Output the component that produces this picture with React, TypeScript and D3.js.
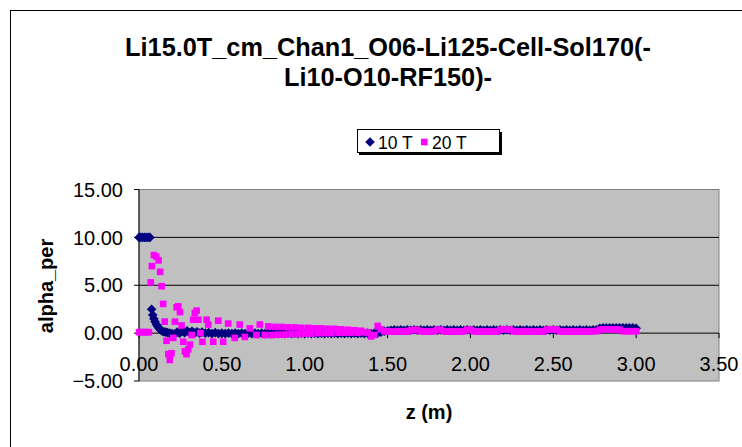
import React from "react";
import * as d3 from "d3";

const TITLE_LINES = ["Li15.0T_cm_Chan1_O06-Li125-Cell-Sol170(-", "Li10-O10-RF150)-"];
const X_TITLE = "z (m)";
const Y_TITLE = "alpha_per";
const SERIES_NAMES = ["10 T", "20 T"];
const X_TICKS = [0, 0.5, 1, 1.5, 2, 2.5, 3, 3.5];
const Y_TICKS = [-5, 0, 5, 10, 15];

// Series "10 T": [z, alpha]
const series10T: [number, number][] = [
  [0, 10], [0.011, 10], [0.022, 10], [0.033, 10], [0.044, 10], [0.055, 10], [0.066, 10],
  [0.076, 2.5], [0.083, 1.9], [0.09, 1.5], [0.097, 1.2], [0.105, 0.9], [0.113, 0.7], [0.121, 0.5],
  [0.13, 0.35], [0.14, 0.2], [0.15, 0.15], [0.16, 0.1], [0.172, 0.05], [0.185, 0.0],
  [0.2, -0.05], [0.215, -0.1], [0.23, 0.1], [0.245, 0.0], [0.26, 0.2], [0.275, 0.05], [0.29, 0.25],
  [0.305, 0.05], [0.32, 0.2], [0.335, 0.0], [0.35, 0.15], [0.365, 0.0], [0.38, 0.1],
  [0.4, 0.0], [0.42, 0.05], [0.44, -0.05], [0.46, 0.05], [0.48, -0.05], [0.5, 0.0], [0.52, -0.05],
  [0.54, 0.0], [0.56, -0.05], [0.58, 0.0], [0.6, -0.05], [0.62, 0.0], [0.64, -0.05], [0.66, 0.0],
  [0.68, -0.05], [0.7, 0.0], [0.72, -0.05], [0.74, 0.0], [0.76, -0.05], [0.78, 0.0], [0.8, -0.05],
  [0.82, 0.0], [0.84, -0.05], [0.86, 0.0], [0.88, -0.05], [0.9, 0.0], [0.92, -0.05], [0.94, 0.0],
  [0.96, -0.05], [0.98, 0.0], [1.0, -0.05], [1.02, 0.0], [1.04, -0.05], [1.06, 0.0], [1.08, -0.05],
  [1.1, 0.0], [1.12, -0.05], [1.14, 0.0], [1.16, -0.05], [1.18, 0.0], [1.2, -0.05], [1.22, 0.0],
  [1.24, -0.05], [1.26, 0.0], [1.28, -0.05], [1.3, 0.0], [1.32, -0.05], [1.34, 0.0], [1.36, -0.05],
  [1.38, 0.0], [1.4, -0.05], [1.42, 0.0], [1.44, 0.0],
  [1.46, 0.1], [1.48, 0.2], [1.5, 0.25], [1.52, 0.3],
  [1.54, 0.35], [1.56, 0.3], [1.58, 0.35], [1.6, 0.3], [1.62, 0.35], [1.64, 0.3], [1.66, 0.35],
  [1.68, 0.3], [1.7, 0.35], [1.72, 0.3], [1.74, 0.35], [1.76, 0.3], [1.78, 0.35], [1.8, 0.3],
  [1.82, 0.35], [1.84, 0.3], [1.86, 0.35], [1.88, 0.3], [1.9, 0.35], [1.92, 0.3], [1.94, 0.35],
  [1.96, 0.3], [1.98, 0.35], [2.0, 0.3], [2.02, 0.35], [2.04, 0.3], [2.06, 0.35], [2.08, 0.3],
  [2.1, 0.35], [2.12, 0.3], [2.14, 0.35], [2.16, 0.3], [2.18, 0.35], [2.2, 0.3], [2.22, 0.35],
  [2.24, 0.3], [2.26, 0.35], [2.28, 0.3], [2.3, 0.35], [2.32, 0.3], [2.34, 0.35], [2.36, 0.3],
  [2.38, 0.35], [2.4, 0.3], [2.42, 0.35], [2.44, 0.3], [2.46, 0.35], [2.48, 0.3], [2.5, 0.35],
  [2.52, 0.3], [2.54, 0.35], [2.56, 0.3], [2.58, 0.35], [2.6, 0.3], [2.62, 0.35], [2.64, 0.3],
  [2.66, 0.35], [2.68, 0.3], [2.7, 0.35], [2.72, 0.3], [2.74, 0.35], [2.76, 0.35],
  [2.78, 0.5], [2.8, 0.55], [2.82, 0.55], [2.84, 0.55], [2.86, 0.55], [2.88, 0.55], [2.9, 0.55],
  [2.92, 0.55], [2.94, 0.55], [2.96, 0.55], [2.98, 0.55], [3.0, 0.5],
];

// Series "20 T": [z, alpha]
const series20T: [number, number][] = [
  [0, 0.1], [0.012, 0.1], [0.024, 0.1], [0.036, 0.1], [0.048, 0.1], [0.06, 0.1],
  [0.071, 5.3], [0.078, 7.0], [0.09, 8.15], [0.104, 8.0], [0.118, 7.6], [0.128, 6.4], [0.137, 4.9],
  [0.146, 3.05], [0.155, 1.2], [0.166, -0.8], [0.177, -2.2], [0.186, -2.8], [0.196, -2.1],
  [0.207, -0.5], [0.217, 1.2], [0.227, 2.7], [0.237, 2.8], [0.247, 2.2], [0.257, 0.8], [0.267, -0.9],
  [0.277, -1.9], [0.287, -2.2], [0.297, -1.7], [0.307, -1.2], [0.318, -0.2], [0.327, 1.4],
  [0.337, 2.1], [0.348, 2.35], [0.358, 1.4], [0.371, 0.0], [0.383, -0.9], [0.408, 1.4], [0.418, 0.9],
  [0.448, -0.9], [0.478, 1.3], [0.508, -0.9], [0.538, 1.0], [0.578, -0.5], [0.608, 0.9],
  [0.639, -0.4], [0.669, 0.5], [0.709, -0.2], [0.729, 0.9], [0.759, -0.2],
  [0.78, 0.7], [0.8, -0.2], [0.82, 0.65], [0.84, -0.15], [0.86, 0.65], [0.88, -0.15], [0.9, 0.6],
  [0.92, -0.1], [0.94, 0.6], [0.96, -0.1], [0.98, 0.55], [1.0, -0.05], [1.02, 0.55], [1.04, -0.05],
  [1.06, 0.5], [1.08, 0.0], [1.1, 0.5], [1.12, 0.0], [1.14, 0.45], [1.16, 0.0], [1.18, 0.45],
  [1.2, 0.05], [1.22, 0.4], [1.24, 0.05], [1.26, 0.35], [1.28, 0.05], [1.3, 0.3], [1.32, 0.05],
  [1.34, 0.25], [1.36, 0.1], [1.38, 0.05], [1.4, -0.35], [1.42, -0.2], [1.44, 0.75], [1.46, 0.4],
  [1.48, 0.2], [1.5, 0.2],
  [1.52, 0.15], [1.54, 0.15], [1.56, 0.2], [1.58, 0.15], [1.6, 0.2], [1.62, 0.15], [1.64, 0.3],
  [1.66, 0.35], [1.68, 0.3], [1.7, 0.2], [1.72, 0.15], [1.74, 0.2], [1.76, 0.15], [1.78, 0.2],
  [1.8, 0.35], [1.82, 0.35], [1.84, 0.2], [1.86, 0.15], [1.88, 0.2], [1.9, 0.15], [1.92, 0.2],
  [1.94, 0.15], [1.96, 0.2], [1.98, 0.35], [2.0, 0.35], [2.02, 0.2], [2.04, 0.15], [2.06, 0.2],
  [2.08, 0.15], [2.1, 0.2], [2.12, 0.15], [2.14, 0.2], [2.16, 0.15], [2.18, 0.35], [2.2, 0.4],
  [2.22, 0.4], [2.24, 0.35], [2.26, 0.2], [2.28, 0.15], [2.3, 0.2], [2.32, 0.15], [2.34, 0.2],
  [2.36, 0.15], [2.38, 0.2], [2.4, 0.15], [2.42, 0.2], [2.44, 0.15], [2.46, 0.35], [2.48, 0.4],
  [2.5, 0.4], [2.52, 0.35], [2.54, 0.2], [2.56, 0.15], [2.58, 0.2], [2.6, 0.15], [2.62, 0.2],
  [2.64, 0.15], [2.66, 0.2], [2.68, 0.15], [2.7, 0.2], [2.72, 0.15], [2.74, 0.2], [2.76, 0.2],
  [2.78, 0.35], [2.8, 0.4], [2.82, 0.4], [2.84, 0.4], [2.86, 0.35], [2.88, 0.4], [2.9, 0.35],
  [2.92, 0.2], [2.94, 0.2], [2.96, 0.2], [2.98, 0.2], [3.0, 0.2],
];

const FONT = "'Liberation Sans', Arial, sans-serif";
const NAVY = "#000080";
const PINK = "#FF00FF";

export default function App() {
  const W = 742;
  const H = 447;
  const x = d3.scaleLinear().domain([0, 3.5]).range([139, 719]);
  const y = d3.scaleLinear().domain([-5, 15]).range([381, 189.5]);
  const fmt = d3.format(".2f");

  const diamond = (cx: number, cy: number, r: number) =>
    `M${cx},${cy - r}L${cx + r},${cy}L${cx},${cy + r}L${cx - r},${cy}Z`;

  const [x0, x1] = x.range();
  const [yb, yt] = y.range();
  const SQ = 6.6;

  return (
    <svg
      width={W}
      height={H}
      style={{ position: "absolute", left: 0, top: 0, background: "#fff" }}
      fontFamily={FONT}
    >
      <rect x={0} y={0} width={W} height={H} fill="#fff" />
      <rect x={10.5} y={10.5} width={800} height={600} fill="none" stroke="#000" strokeWidth={1} />

      {TITLE_LINES.map((t, i) => (
        <text key={i} x={388} y={56 + i * 30} textAnchor="middle" fontSize={25.3} fontWeight="bold">
          {t}
        </text>
      ))}

      {/* legend */}
      <rect x={359} y={132} width={143} height={23} fill="#000" />
      <rect x={357.5} y={129.5} width={142} height={23} fill="#fff" stroke="#000" strokeWidth={1} />
      <path d={diamond(370, 142, 4.8)} fill={NAVY} />
      <text x={378} y={148.5} fontSize={17.5}>{SERIES_NAMES[0]}</text>
      <rect x={421} y={138.7} width={SQ} height={SQ} fill={PINK} />
      <text x={432} y={148.5} fontSize={17.5}>{SERIES_NAMES[1]}</text>

      {/* plot area */}
      <rect x={x0} y={yt} width={x1 - x0} height={yb - yt} fill="#C0C0C0" stroke="#808080" strokeWidth={1} />
      {Y_TICKS.filter((t) => t !== -5 && t !== 15 && t !== 0).map((t) => (
        <line key={t} x1={x0} x2={x1} y1={y(t)} y2={y(t)} stroke="#000" strokeWidth={1} />
      ))}

      {/* y axis */}
      <line x1={x0} x2={x0} y1={yt} y2={yb} stroke="#000" strokeWidth={1} />
      {Y_TICKS.map((t) => (
        <g key={t}>
          <line x1={x0 - 5} x2={x0} y1={y(t)} y2={y(t)} stroke="#000" />
          <text x={123} y={y(t)} dy="0.36em" textAnchor="end" fontSize={20}>
            {fmt(t)}
          </text>
        </g>
      ))}

      {/* x axis at y=0 */}
      <line x1={x0} x2={x1} y1={y(0)} y2={y(0)} stroke="#000" strokeWidth={1} />
      {X_TICKS.map((t) => (
        <g key={t}>
          <line x1={x(t)} x2={x(t)} y1={y(0)} y2={y(0) + 5} stroke="#000" />
          <text x={x(t)} y={371} textAnchor="middle" fontSize={20}>
            {fmt(t)}
          </text>
        </g>
      ))}

      {/* series */}
      <g>
        {series10T.map(([z, v], i) => (
          <path key={i} d={diamond(x(z), y(v), 4.8)} fill={NAVY} />
        ))}
      </g>
      <g>
        {series20T.map(([z, v], i) => (
          <rect key={i} x={x(z) - SQ / 2} y={y(v) - SQ / 2} width={SQ} height={SQ} fill={PINK} />
        ))}
      </g>

      {/* axis titles */}
      <text x={429} y={419} textAnchor="middle" fontSize={20} fontWeight="bold">
        {X_TITLE}
      </text>
      <text transform="translate(52.5,286) rotate(-90)" textAnchor="middle" fontSize={20} fontWeight="bold">
        {Y_TITLE}
      </text>
    </svg>
  );
}
